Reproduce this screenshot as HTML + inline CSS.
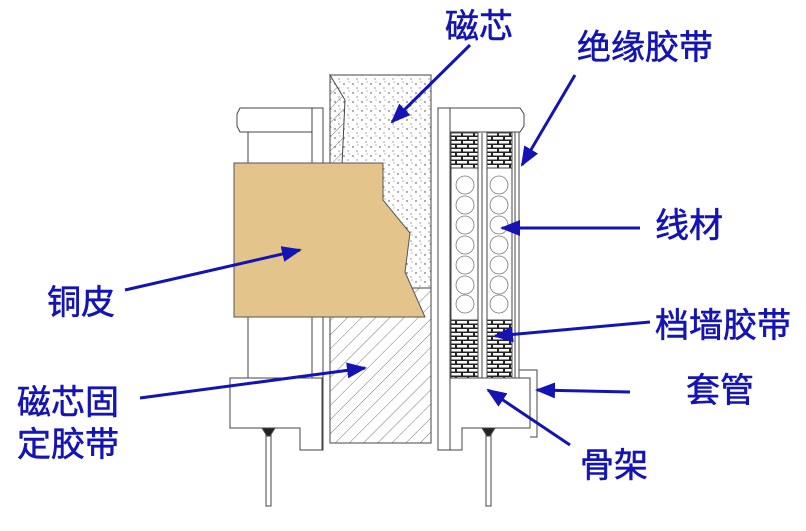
<!DOCTYPE html>
<html><head><meta charset="utf-8"><style>
html,body{margin:0;padding:0;background:#fff;}
svg text{font-family:"Liberation Sans","Noto Sans CJK SC",sans-serif;font-size:34px;fill:#1414b4;stroke:#1414b4;stroke-width:0.6;}
</style></head><body>
<svg width="806" height="526" viewBox="0 0 806 526" xmlns="http://www.w3.org/2000/svg">
<defs>
<pattern id="dots" width="9" height="9" patternUnits="userSpaceOnUse">
<circle cx="2" cy="3" r="0.7" fill="#333"/><circle cx="6" cy="7" r="0.6" fill="#555"/><circle cx="7" cy="1" r="0.5" fill="#444"/>
</pattern>
<pattern id="hatch" width="10" height="10" patternUnits="userSpaceOnUse" patternTransform="rotate(45)">
<line x1="0" y1="0" x2="0" y2="10" stroke="#555" stroke-width="0.8"/>
</pattern>
<pattern id="brick" width="12" height="8" patternUnits="userSpaceOnUse">
<rect width="12" height="8" fill="#222"/>
<rect x="1" y="1" width="10" height="2.5" fill="#fff"/><rect x="-5" y="5" width="10" height="2.5" fill="#fff"/><rect x="7" y="5" width="10" height="2.5" fill="#fff"/>
</pattern>
<marker id="ah2" markerWidth="20" markerHeight="16" refX="18" refY="8" orient="auto" markerUnits="userSpaceOnUse">
<path d="M0,0 L20,8 L0,16 z" fill="#1414b4"/>
</marker>
</defs>
<g stroke="#444" stroke-width="1" fill="#fff">
<path d="M240,108 L323,108 L323,132 L240,132 L237,126 L237,114 Z"/>
<rect x="248" y="132" width="64" height="246"/>
<rect x="312" y="108" width="11" height="342"/>
<path d="M230,378 L322,378 L322,450 L300,450 L300,428 L230,428 Z"/>
<rect x="330" y="75" width="101" height="213" fill="url(#dots)"/>
<rect x="330" y="288" width="101" height="155" fill="url(#hatch)"/>
<path d="M330,75 L345,100 L342,165 L330,170 Z" fill="url(#hatch)"/>
<rect x="438" y="108" width="12" height="342"/>
<path d="M450,108 L520,108 L524,114 L524,126 L520,132 L450,132 Z"/>
<rect x="515" y="132" width="4" height="246"/>
<path d="M519,370 L537,370 L537,437 L530,437" fill="none"/>
<path d="M450,378 L530,378 L530,428 L462,428 L462,450 L450,450 Z"/>
<rect x="451" y="133" width="27" height="35" fill="url(#brick)"/>
<rect x="487" y="133" width="25" height="35" fill="url(#brick)"/>
<rect x="451" y="320" width="27" height="58" fill="url(#brick)"/>
<rect x="487" y="320" width="25" height="58" fill="url(#brick)"/>
<rect x="451" y="168" width="27" height="152"/>
<rect x="487" y="168" width="25" height="152"/>
<line x1="482" y1="133" x2="482" y2="378"/>
<rect x="266" y="434" width="5" height="72"/>
<rect x="486" y="434" width="5" height="72"/>
<path d="M262,428 L275,428 L270,436 L267,436 Z" fill="#222"/>
<path d="M482,428 L495,428 L490,436 L487,436 Z" fill="#222"/>
</g>
<g fill="none" stroke="#777" stroke-width="0.8">
<circle cx="465" cy="185" r="9"/><circle cx="465" cy="205" r="9"/><circle cx="465" cy="225" r="9"/><circle cx="465" cy="245" r="9"/><circle cx="465" cy="265" r="9"/><circle cx="465" cy="285" r="9"/><circle cx="465" cy="304" r="9"/>
<circle cx="499" cy="185" r="9"/><circle cx="499" cy="205" r="9"/><circle cx="499" cy="225" r="9"/><circle cx="499" cy="245" r="9"/><circle cx="499" cy="265" r="9"/><circle cx="499" cy="285" r="9"/><circle cx="499" cy="304" r="9"/>
</g>
<path d="M234,163 L383,163 L383,200 L410,233 L405,272 L425,317 L234,317 Z" fill="#e3c48a" stroke="#555" stroke-width="1"/>
<g stroke="#1414b4" stroke-width="3" fill="none" marker-end="url(#ah2)">
<line x1="470" y1="45" x2="392" y2="122"/>
<line x1="575" y1="75" x2="522" y2="165"/>
<line x1="640" y1="228" x2="502" y2="228"/>
<line x1="650" y1="322" x2="495" y2="336"/>
<line x1="630" y1="392" x2="537" y2="390"/>
<line x1="570" y1="445" x2="488" y2="390"/>
<line x1="125" y1="290" x2="300" y2="250"/>
<line x1="140" y1="398" x2="365" y2="368"/>
</g>
<text x="445" y="38">磁芯</text>
<text x="577" y="59">绝缘胶带</text>
<text x="655" y="237">线材</text>
<text x="655" y="337">档墙胶带</text>
<text x="686" y="402">套管</text>
<text x="580" y="477">骨架</text>
<text x="47" y="314">铜皮</text>
<text x="17" y="414">磁芯固</text>
<text x="17" y="456">定胶带</text>
</svg>
</body></html>
